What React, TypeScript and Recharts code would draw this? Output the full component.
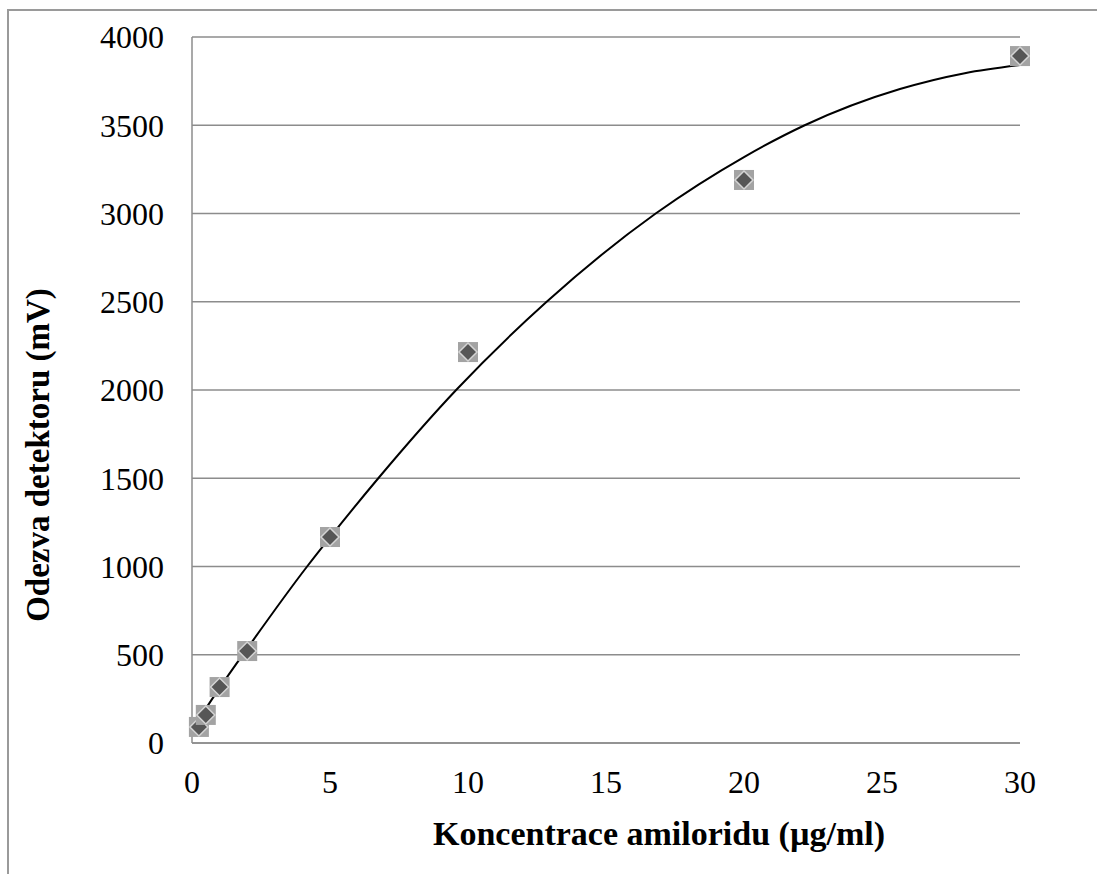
import { ComposedChart, Scatter, Line, XAxis, YAxis, CartesianGrid } from "recharts";

// measured points
const concentrations = [0.25, 0.5, 1, 2, 5, 10, 20, 30];
const responses = [91, 159, 317, 521, 1167, 2215, 3190, 3892];

// polynomial trendline
const trendX = [0.25, 1, 2, 4.17, 5, 6.75, 9.57, 12.85, 16.8, 20, 22.2, 25.65, 28, 30];
const trendY = [135, 312, 535, 1000, 1165, 1500, 2000, 2500, 3000, 3320, 3500, 3705, 3795, 3841];

const xTicks = [0, 5, 10, 15, 20, 25, 30];
const yTicks = [0, 500, 1000, 1500, 2000, 2500, 3000, 3500, 4000];

const points = concentrations.map((x, i) => ({ x, y: responses[i] }));
const trend = trendX.map((x, i) => ({ x, y: trendY[i] }));

const FONT = "'Liberation Serif', 'Times New Roman', serif";
const GRID = "#8c8c8c";

function Marker({ cx, cy }: any) {
  if (cx == null || cy == null) return null;
  const s = 10;
  return (
    <g>
      <rect x={cx - s} y={cy - s} width={2 * s} height={2 * s} fill="#a3a3a3" />
      <polygon
        points={`${cx},${cy - s + 1} ${cx + s - 1},${cy} ${cx},${cy + s - 1} ${cx - s + 1},${cy}`}
        fill="#565656"
        stroke="#d4d4d4"
        strokeWidth={1.5}
      />
    </g>
  );
}

function YTitle({ viewBox }: any) {
  const x = viewBox.x + viewBox.width - 154;
  const y = viewBox.y + viewBox.height / 2 + 65;
  return (
    <text x={x} y={y} transform={`rotate(-90, ${x}, ${y})`} textAnchor="middle" dominantBaseline="central"
      fontFamily={FONT} fontWeight="bold" fontSize={33} fill="#000">
      Odezva detektoru (mV)
    </text>
  );
}

function XTitle({ viewBox }: any) {
  const x = viewBox.x + viewBox.width / 2 + 53;
  const y = viewBox.y + 90;
  return (
    <text x={x} y={y} textAnchor="middle" dominantBaseline="central"
      fontFamily={FONT} fontWeight="bold" fontSize={34} fill="#000">
      Koncentrace amiloridu (µg/ml)
    </text>
  );
}

export default function App() {
  return (
    <div style={{ position: "absolute", left: 0, top: 0, width: 1097, height: 874, background: "#fff", overflow: "hidden" }}>
      <div style={{ position: "absolute", left: 7, top: 9, width: 1200, height: 1000, borderTop: `2px solid #9a9a9a`, borderLeft: `2px solid #9a9a9a` }} />
      <ComposedChart
        width={1097}
        height={874}
        margin={{ top: 37, right: 77, bottom: 0, left: 112 }}
        style={{ position: "absolute", left: 0, top: 0 }}
      >
        <CartesianGrid vertical={false} stroke={GRID} strokeWidth={1.5} />
        <XAxis
          type="number"
          dataKey="x"
          domain={[0, 30]}
          ticks={xTicks}
          axisLine={{ stroke: GRID, strokeWidth: 1.5 }}
          tickLine={false}
          tickSize={0}
          tickMargin={27}
          tick={{ fill: "#000", fontFamily: FONT, fontSize: 32 }}
          height={131}
          label={<XTitle />}
        />
        <YAxis
          type="number"
          dataKey="y"
          domain={[0, 4000]}
          ticks={yTicks}
          width={80}
          axisLine={{ stroke: GRID, strokeWidth: 1.5 }}
          tickLine={false}
          tickSize={0}
          tickMargin={28}
          tick={{ fill: "#000", fontFamily: FONT, fontSize: 32 }}
          label={<YTitle />}
        />
        <Scatter data={points} dataKey="y" shape={<Marker />} isAnimationActive={false} />
        <Line data={trend} dataKey="y" type="monotone" stroke="#000" strokeWidth={2} dot={false} activeDot={false} isAnimationActive={false} />
      </ComposedChart>
    </div>
  );
}
